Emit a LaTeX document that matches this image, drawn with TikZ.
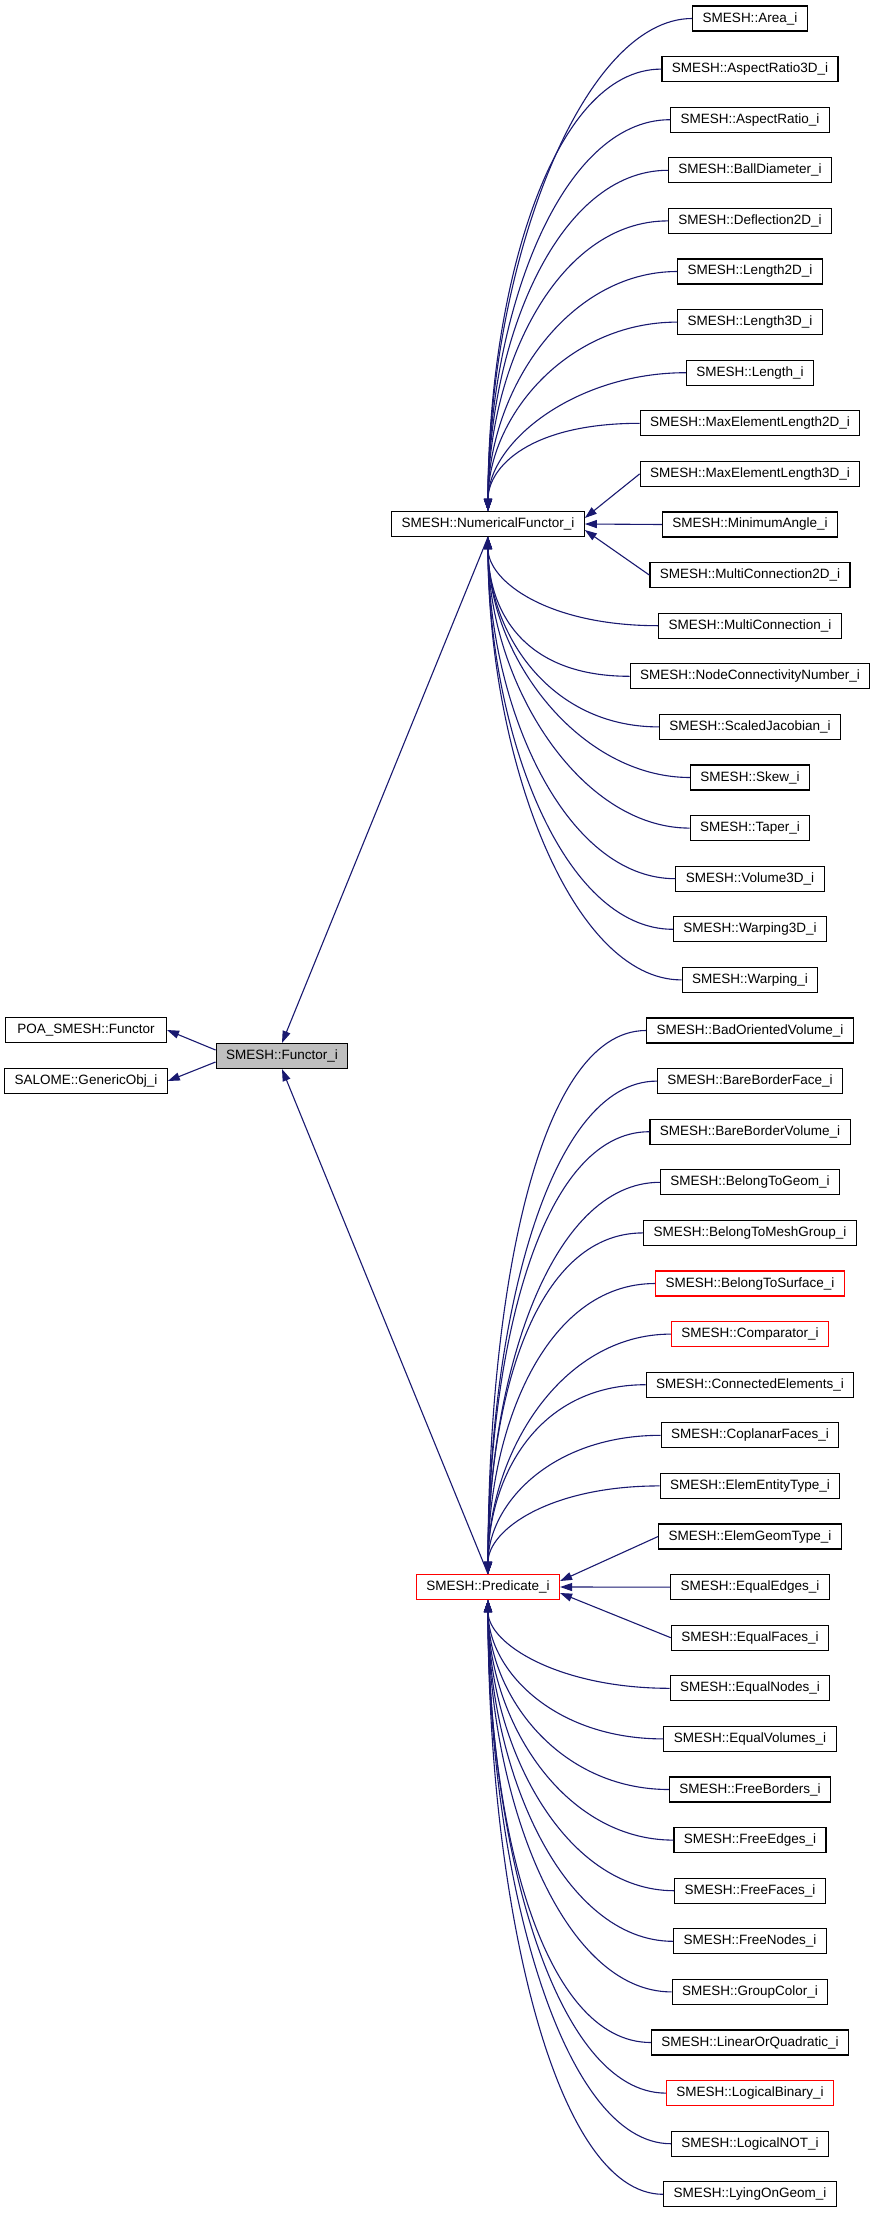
\documentclass[tikz,border=0pt]{standalone}
\usepackage{fontspec}
\setmainfont{Liberation Sans}
\usetikzlibrary{arrows.meta,positioning,calc}
\definecolor{EdgeBlue}{HTML}{191970}
\definecolor{FunctorGray}{HTML}{BFBFBF}

\begin{document}
\begin{tikzpicture}[
    x=1pt, y=-1pt,
    cls/.style={rectangle, draw=black, fill=white, line width=1.1pt,
                font=\fontsize{13.5}{15}\selectfont, inner xsep=10pt,
                inner ysep=0pt, minimum height=25pt},
    redcls/.style={cls, draw=red},
    inh/.style={draw=EdgeBlue, line width=1.1pt,
                -{Triangle[length=12pt,width=8pt]}}
]
    \useasboundingbox (0,0) rectangle (876,2216);

    % base classes
    \node[cls, minimum width=161pt] (poa) at (86,1030) {POA\_SMESH::Functor};
    \node[cls, minimum width=161pt] (salome) at (86,1081) {SALOME::GenericObj\_i};
    \node[cls, fill=FunctorGray] (functor) at (282,1056) {SMESH::Functor\_i};

    % intermediate classes
    \node[cls] (numerical) at (488,524) {SMESH::NumericalFunctor\_i};
    \node[redcls] (predicate) at (488,1587) {SMESH::Predicate\_i};

    \draw[inh] ($(functor.west)+(0,-6)$) -- (poa.east);
    \draw[inh] ($(functor.west)+(0,6)$) -- (salome.east);
    \draw[inh] (numerical.south) -- (functor.north);
    \draw[inh] (predicate.north) -- (functor.south);

    % numerical functors
    \foreach \name/\txt [count=\i from 0] in {
        area/Area\_i, ar3d/AspectRatio3D\_i, ar/AspectRatio\_i,
        ball/BallDiameter\_i, defl/Deflection2D\_i, len2d/Length2D\_i,
        len3d/Length3D\_i, len/Length\_i, maxel2d/MaxElementLength2D\_i,
        maxel3d/MaxElementLength3D\_i, minang/MinimumAngle\_i,
        mc2d/MultiConnection2D\_i, mc/MultiConnection\_i,
        nodeconn/NodeConnectivityNumber\_i, jac/ScaledJacobian\_i,
        skew/Skew\_i, taper/Taper\_i, vol3d/Volume3D\_i,
        warp3d/Warping3D\_i, warp/Warping\_i} {
        \node[cls] (\name) at (750,{18.5+50.6*\i}) {SMESH::\txt};
        \pgfmathtruncatemacro{\di}{\i-10}
        \ifnum\di<-1
            \draw[inh] (\name.west) .. controls +(-110,0) and ($(numerical.north)!0.5!(numerical.north|-\name.west)$) .. (numerical.north);
        \else\ifnum\di>1
            \draw[inh] (\name.west) .. controls +(-110,0) and ($(numerical.south)!0.5!(numerical.south|-\name.west)$) .. (numerical.south);
        \else
            \draw[inh] (\name.west) -- ($(numerical.east)+(0,6*\di)$);
        \fi\fi
    }

    % predicates
    \foreach \name/\txt/\sty [count=\i from 20] in {
        badvol/BadOrientedVolume\_i/cls, bbface/BareBorderFace\_i/cls,
        bbvol/BareBorderVolume\_i/cls, geom/BelongToGeom\_i/cls,
        meshgrp/BelongToMeshGroup\_i/cls, surf/BelongToSurface\_i/redcls,
        comp/Comparator\_i/redcls, conn/ConnectedElements\_i/cls,
        copl/CoplanarFaces\_i/cls, entity/ElemEntityType\_i/cls,
        geomtype/ElemGeomType\_i/cls, eqedges/EqualEdges\_i/cls,
        eqfaces/EqualFaces\_i/cls, eqnodes/EqualNodes\_i/cls,
        eqvols/EqualVolumes\_i/cls, fborders/FreeBorders\_i/cls,
        fedges/FreeEdges\_i/cls, ffaces/FreeFaces\_i/cls,
        fnodes/FreeNodes\_i/cls, grpcol/GroupColor\_i/cls,
        linquad/LinearOrQuadratic\_i/cls, lbin/LogicalBinary\_i/redcls,
        lnot/LogicalNOT\_i/cls, lying/LyingOnGeom\_i/cls} {
        \node[\sty] (\name) at (750,{18.5+50.6*\i}) {SMESH::\txt};
        \pgfmathtruncatemacro{\di}{\i-31}
        \ifnum\di<-1
            \draw[inh] (\name.west) .. controls +(-110,0) and ($(predicate.north)!0.5!(predicate.north|-\name.west)$) .. (predicate.north);
        \else\ifnum\di>1
            \draw[inh] (\name.west) .. controls +(-110,0) and ($(predicate.south)!0.5!(predicate.south|-\name.west)$) .. (predicate.south);
        \else
            \draw[inh] (\name.west) -- ($(predicate.east)+(0,6*\di)$);
        \fi\fi
    }
\end{tikzpicture}
\end{document}
